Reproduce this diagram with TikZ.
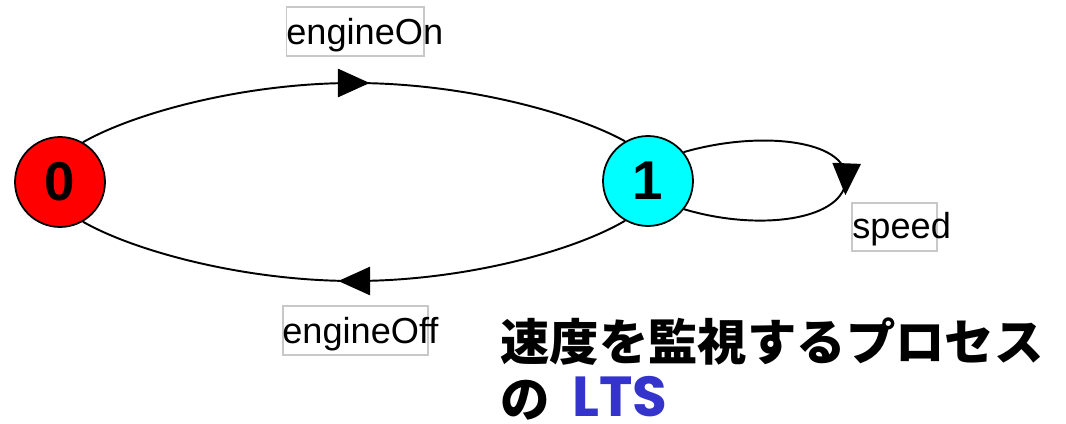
\documentclass[tikz,border=0pt]{standalone}
\usepackage{fontspec}
\setmainfont{Liberation Sans}
\newfontfamily\cjk{Noto Sans CJK JP}
\newfontfamily\ltsfont{Poppins}
\usetikzlibrary{arrows.meta,decorations.markings}
\definecolor{ltsblue}{RGB}{52,52,204}
\definecolor{boxgray}{RGB}{200,200,200}
\definecolor{statered}{RGB}{255,0,0}
\definecolor{statecyan}{RGB}{0,255,255}
\tikzset{
  ltsstate/.style={circle, draw=black, line width=1pt, minimum size=51pt, inner sep=0pt,
    font=\fontsize{31}{31}\selectfont\bfseries},
  trans/.style={draw, line width=1.1pt, postaction={decorate},
    decoration={markings, mark=at position 0.5 with {\pgftransformxshift{9pt}\arrow{Triangle[length=18pt,width=16pt]}}}},
  lblbox/.style={draw=boxgray, line width=0.6pt, inner sep=0pt, minimum height=27.8pt},
  lbltext/.style={inner sep=0pt, anchor=base west, font=\fontsize{20.5}{20.5}\selectfont},
  title/.style={inner sep=0pt, anchor=base west, font=\cjk\bfseries\fontsize{28}{28}\selectfont}
}
\begin{document}
\begin{tikzpicture}[x=0.5669pt, y=-0.5669pt]
\useasboundingbox (0,0) rectangle (1066,423);
% states
\node[ltsstate, fill=statered] (n0) at (60,182) {0};
\node[ltsstate, fill=statecyan] (n1) at (648,181) {1};
% helper points
\coordinate (topmid) at (354,83);
\coordinate (botmid) at (354,281);
\coordinate (loopR) at (846,178);
% transitions
\draw[trans] (n0.60) .. controls (134,113) and (244,83) .. (topmid)
             .. controls (464,83) and (574,113) .. (n1.120);
\draw[trans] (n1.240) .. controls (574,251) and (464,281) .. (botmid)
             .. controls (244,281) and (134,251) .. (n0.300);
\draw[trans] (n1.39) .. controls (760,130) and (846,140) .. (loopR)
             .. controls (846,220) and (760,232) .. (n1.-38);
% labels
\node[lblbox, minimum width=78.2pt] (onbox) at (355,31.5) {};
\node[lbltext] (ontxt) at (286,45) {engineOn};
\node[lblbox, minimum width=82.2pt] (offbox) at (355.5,330.5) {};
\node[lbltext] (offtxt) at (282,343) {engineOff};
\node[lblbox, minimum width=48.2pt, minimum height=27.2pt] (spbox) at (894.5,227) {};
\node[lbltext] (sptxt) at (852,238) {speed};
% title
\node[title] (ttl1) at (500,360) {速度を監視するプロセス};
\node[title] (ttl2) at (500,417) {の};
\node[inner sep=0pt, anchor=base west, text=ltsblue, font=\ltsfont\bfseries\fontsize{32}{32}\selectfont] (ttl3) at (572,416) {LTS};
\end{tikzpicture}
\end{document}
